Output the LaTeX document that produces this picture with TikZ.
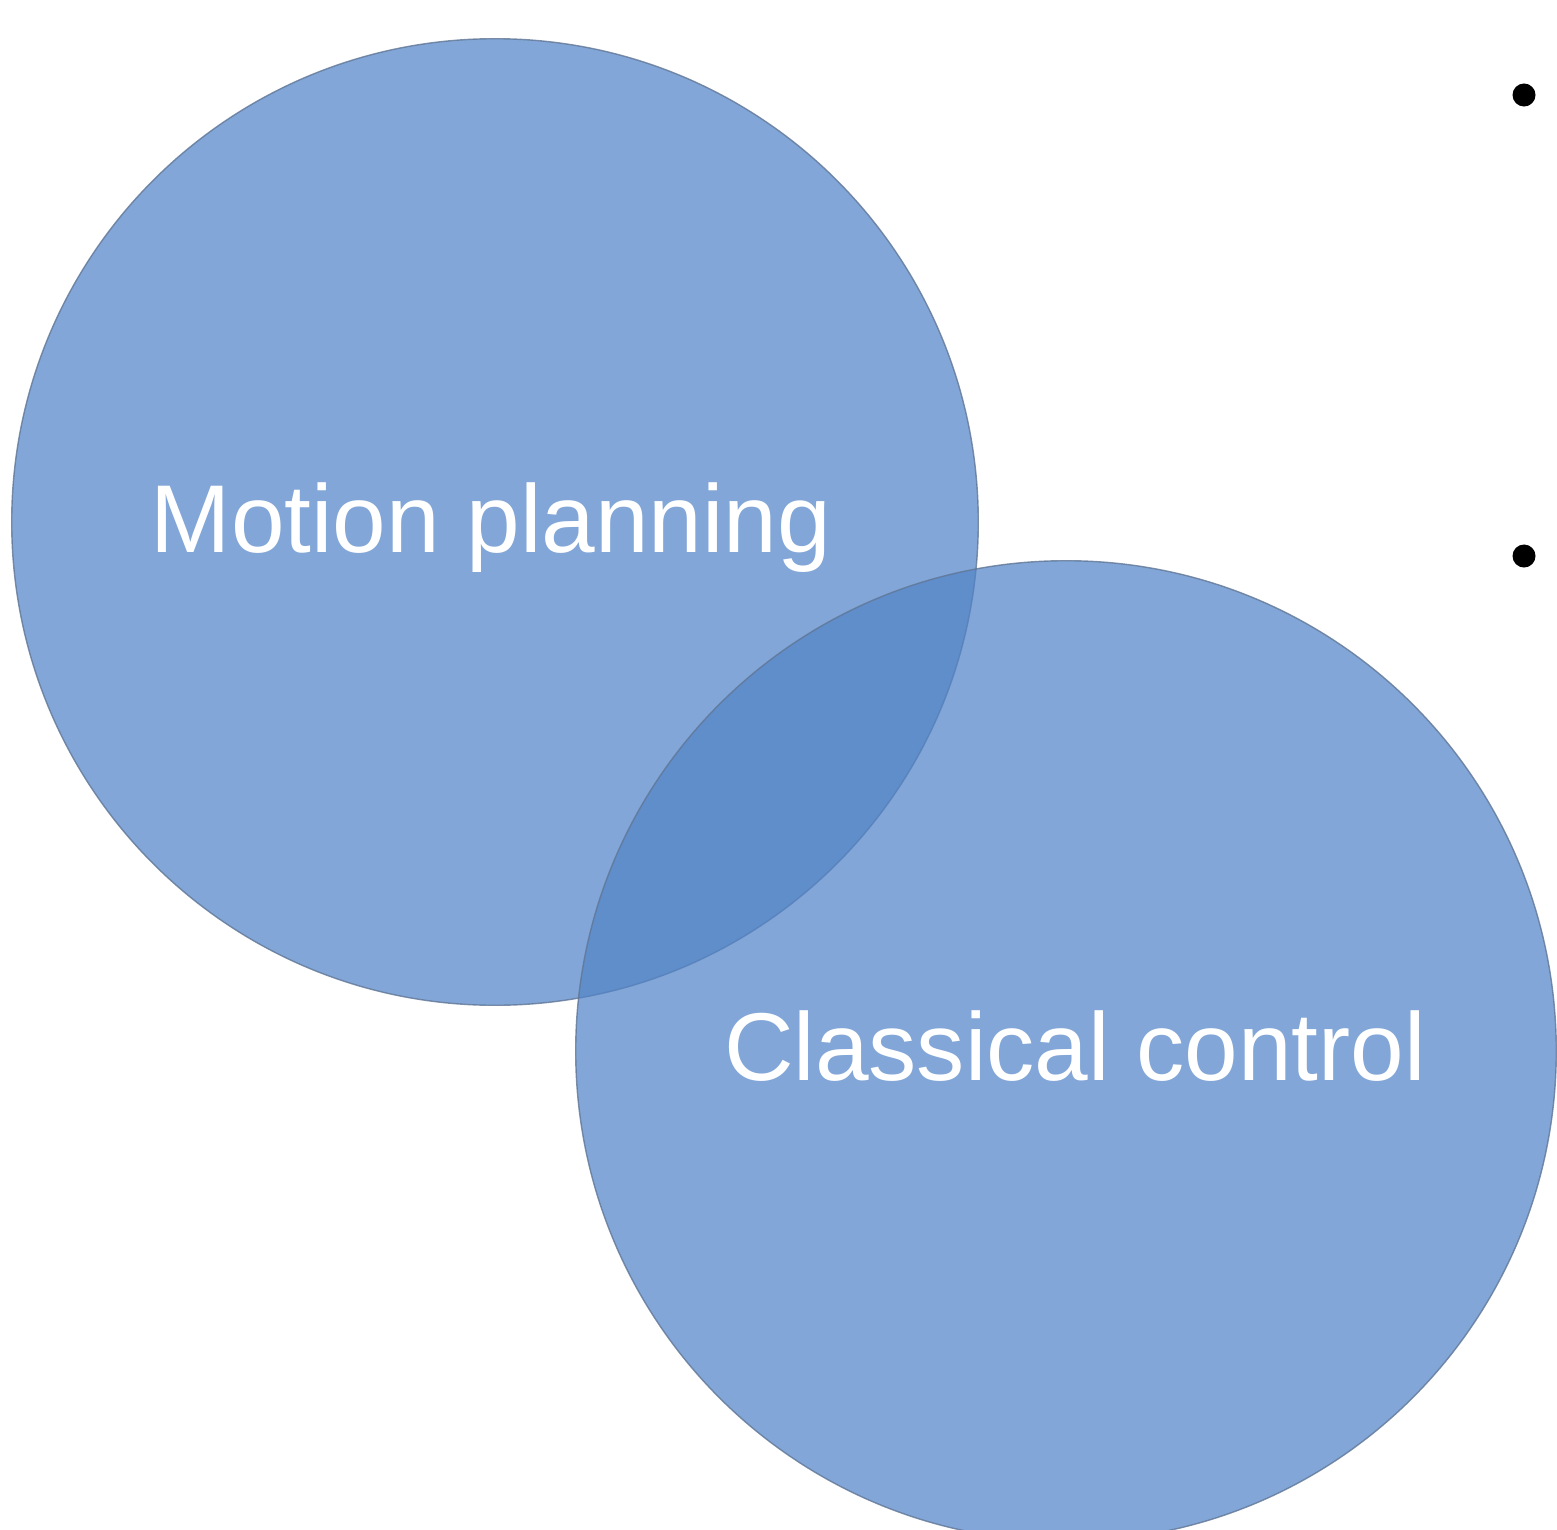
\documentclass[tikz,border=0pt]{standalone}
\usepackage{fontspec}
\setmainfont{Liberation Sans}
\definecolor{vennblue}{RGB}{82,132,199}
\definecolor{vennrim}{RGB}{96,118,150}
\tikzset{
  venn/.style={circle, fill=vennblue, fill opacity=0.72,
    draw=vennrim, draw opacity=0.8, line width=0.4pt, inner sep=0pt},
  vennlabel/.style={anchor=base, text=white, inner sep=0pt,
    font=\fontsize{27.4}{32}\selectfont},
  bulletdot/.style={circle, fill=black, minimum size=0.23cm, inner sep=0pt}
}
\begin{document}
\begin{tikzpicture}[x=0.01cm,y=-0.01cm]
\useasboundingbox (0,0) rectangle (1557,1530);

\node[venn, minimum size=9.66cm] (plan) at (495,522) {};
\node[venn, minimum size=9.8cm] (ctrl) at (1066,1051) {};

\node[vennlabel] (planlabel) at (491,552) {Motion planning};
\node[vennlabel] (ctrllabel) at (1075,1080) {Classical control};

\node[bulletdot] (b1) at (1524,95) {};
\node[bulletdot] (b2) at (1524,556) {};
\end{tikzpicture}
\end{document}
